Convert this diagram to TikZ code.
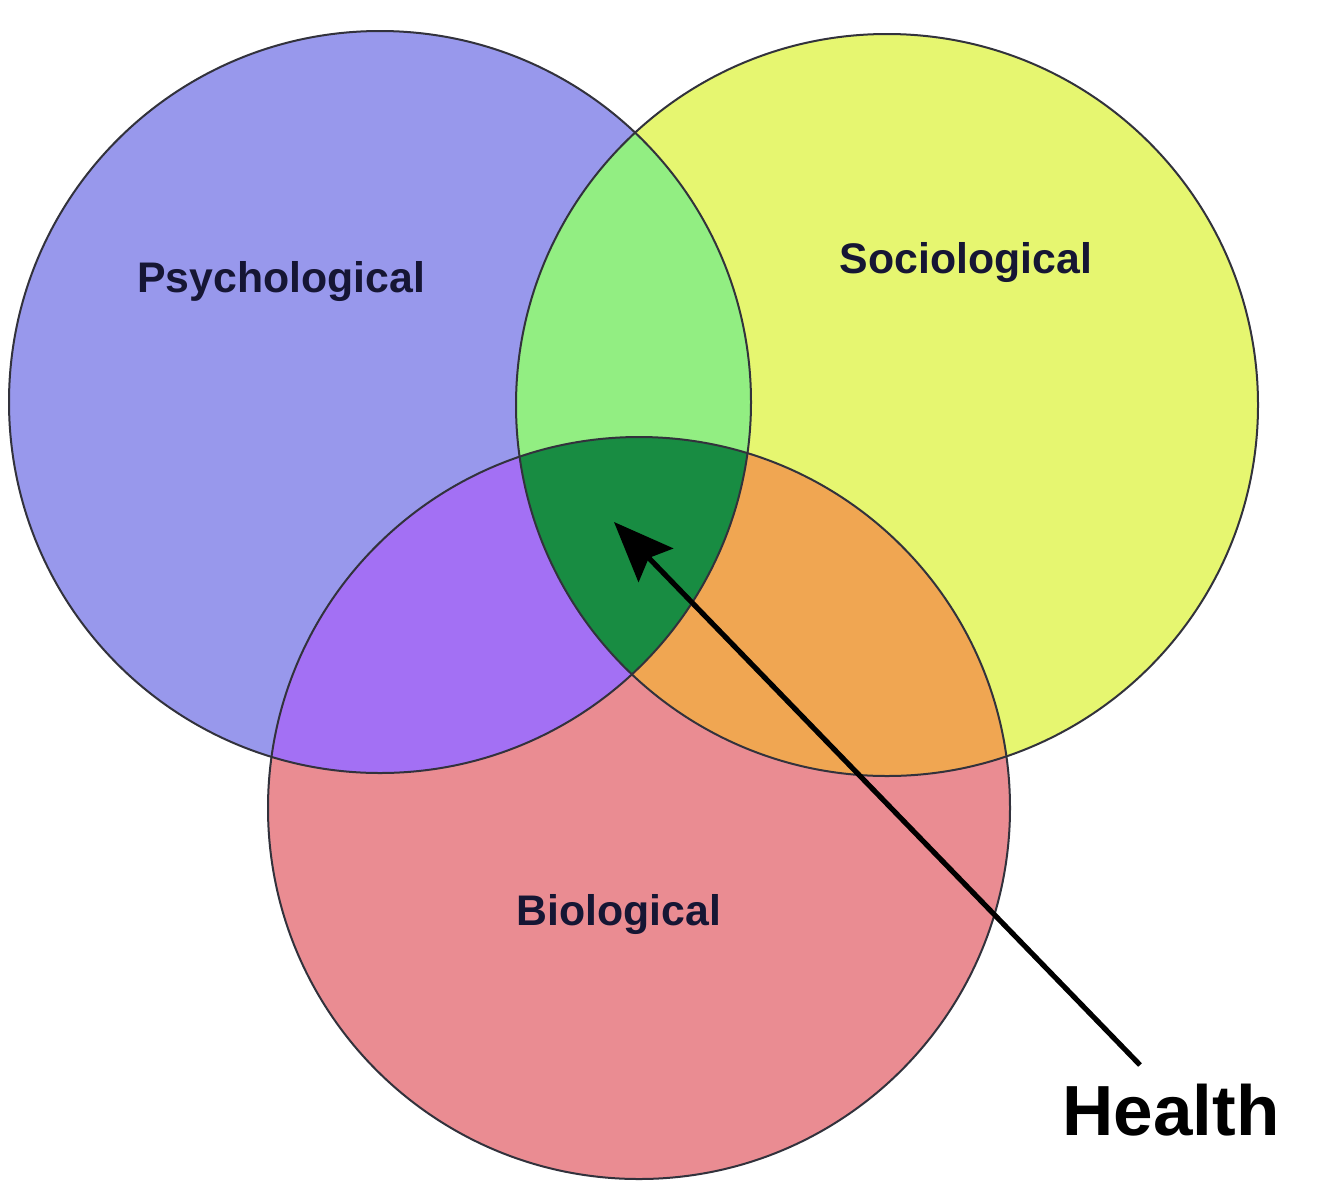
\documentclass[tikz,border=0pt]{standalone}
\usepackage{fontspec}
\setmainfont{Liberation Sans}
\usetikzlibrary{arrows.meta}
\definecolor{cblue}{RGB}{152,152,236}
\definecolor{cyellow}{RGB}{230,246,112}
\definecolor{cpink}{RGB}{234,140,146}
\definecolor{cltgreen}{RGB}{146,238,130}
\definecolor{cpurple}{RGB}{163,112,244}
\definecolor{corange}{RGB}{240,166,82}
\definecolor{cdkgreen}{RGB}{24,140,66}
\definecolor{cline}{RGB}{50,50,60}
\definecolor{ctext}{RGB}{22,22,52}
\tikzset{
  ring/.style={draw=cline, line width=1pt},
  lbl/.style={font=\fontsize{21.4pt}{24pt}\selectfont\bfseries, text=ctext},
}
\begin{document}
\begin{tikzpicture}[x=0.5pt,y=-0.5pt]
\useasboundingbox (0,0) rectangle (1327,1200);
\fill[white] (0,0) rectangle (1327,1200);
\coordinate (P) at (380,402);
\coordinate (S) at (887,405);
\coordinate (B) at (639,808);
\def\R{185.5pt}
% base fills
\fill[cblue] (P) circle[radius=\R];
\fill[cyellow] (S) circle[radius=\R];
\fill[cpink] (B) circle[radius=\R];
% pairwise
\begin{scope}
  \clip (P) circle[radius=\R];
  \fill[cltgreen] (S) circle[radius=\R];
  \fill[cpurple] (B) circle[radius=\R];
\end{scope}
\begin{scope}
  \clip (S) circle[radius=\R];
  \fill[corange] (B) circle[radius=\R];
\end{scope}
% triple
\begin{scope}
  \clip (P) circle[radius=\R];
  \clip (S) circle[radius=\R];
  \fill[cdkgreen] (B) circle[radius=\R];
\end{scope}
% outlines
\draw[ring] (P) circle[radius=\R];
\draw[ring] (S) circle[radius=\R];
\draw[ring] (B) circle[radius=\R];
% labels
\node[lbl] (psy) at (281,282) {Psychological};
\node[lbl] (soc) at (966,263) {Sociological};
\node[lbl] (bio) at (619,915) {Biological};
\node[font=\fontsize{35.5pt}{40pt}\selectfont\bfseries, text=black] (health) at (1171,1110) {Health};
\coordinate (tail) at (1140,1065);
\coordinate (tip) at (614,522);
\draw[line width=2.6pt, -{Stealth[length=30pt,width=24pt,inset=5pt]}] (tail) -- (tip);
\end{tikzpicture}
\end{document}
